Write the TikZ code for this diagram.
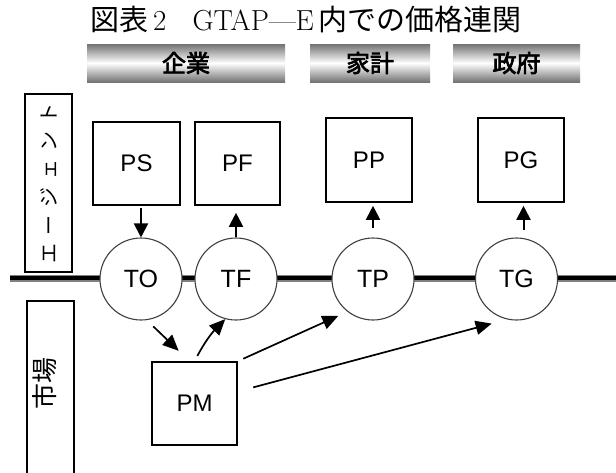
\documentclass[tikz,border=0pt]{standalone}
\usepackage{fontspec}
\usetikzlibrary{arrows.meta}
\newfontfamily\cjk{Noto Sans CJK JP}
\newfontfamily\cjkb[FakeBold=3]{Noto Sans CJK JP}
\newfontfamily\lab{Liberation Sans}
\newcommand\kgap{\hspace{8pt}}
\begin{document}
\begin{tikzpicture}[x=1pt,y=-1pt,
 box/.style={draw, line width=1.6pt, minimum width=86pt, minimum height=84pt, inner sep=0pt, font=\lab\fontsize{24}{27}\selectfont},
 hub/.style={circle, draw=black!75, line width=1.1pt, fill=white, minimum size=82pt, inner sep=0pt, font=\lab\fontsize{25}{28}\selectfont},
 bar/.style={minimum height=38pt, inner sep=0pt, top color=black!55, bottom color=black!55, middle color=white, font=\cjkb\fontsize{24}{26}\selectfont},
 side/.style={draw, line width=1.8pt, rotate=90, minimum height=47pt, inner sep=0pt},
 varr/.style={line width=2pt, -{Triangle[length=14pt,width=14pt]}},
 darr/.style={line width=1.7pt, -{Triangle[length=16pt,width=14pt]}}
]
\useasboundingbox (0,0) rectangle (616,472);
\clip (0,0) rectangle (616,472);
\fill[white] (0,0) rectangle (616,472);

% title
\node (title) at (306,19) {\fontsize{29}{33}\selectfont{\cjk 図表}\,2\hspace{0.9em}GTAP—E\,{\cjk 内での価格連関}};

% header bars
\node[bar, minimum width=198pt] (bfirm) at (186,63) {企業};
\node[bar, minimum width=120pt] (bhh) at (370,63) {家計};
\node[bar, minimum width=127pt] (bgov) at (516.5,63) {政府};

% side boxes
\node[side, minimum width=178pt, font=\cjk\fontsize{20}{22}\selectfont] (agent) at (48.5,183) {エ\kgap ー\kgap ジ\kgap ェ\kgap ン\kgap ト};
\node[side, minimum width=190pt] (mkt) at (50.5,396) {};
\node[rotate=90, inner sep=0pt, font=\cjk\fontsize{26}{28}\selectfont] (mkttxt) at (45,383) {市場};

% main line
\coordinate (L) at (10,278);
\coordinate (R) at (620,278);
\draw[line width=7pt, black!50] (L) -- (R);
\draw[line width=4pt, black] (L) -- (R);

% boxes
\node[box, minimum width=87pt, minimum height=83pt] (PS) at (136.5,163.5) {PS};
\node[box, minimum width=85pt, minimum height=83pt] (PF) at (237.5,163.5) {PF};
\node[box] (PP) at (369,160) {PP};
\node[box] (PG) at (521,160) {PG};
\node[box, minimum width=85pt, minimum height=83pt] (PM) at (194.5,403.5) {PM};

% circles
\node[hub] (TO) at (141,279) {\raisebox{-3pt}{TO}};
\node[hub] (TF) at (236,279) {\raisebox{-3pt}{TF}};
\node[hub] (TP) at (373,279) {\raisebox{-3pt}{TP}};
\node[hub] (TG) at (516.5,279) {\raisebox{-3pt}{TG}};

% vertical arrows
\draw[varr, shorten <=2pt] (TO.north |- PS.south) -- (TO.north);
\draw[varr, shorten >=7pt] (TF.north) -- (TF.north |- PF.south);
\draw[varr, shorten <=9pt, shorten >=3pt] (TP.north) -- (TP.north |- PP.south);
\draw[varr, shorten <=7pt, shorten >=3pt] ([xshift=7pt]TG.north) -- ([xshift=7pt]TG.north |- PG.south);

% diagonal arrows
\draw[darr, shorten <=9pt, shorten >=15pt] (TO.-82) -- ([xshift=-5pt]PM.north);
\draw[darr, shorten <=6pt] (PM.north) to[bend left=8] (TF.-105);
\draw[darr, shorten <=6pt, shorten >=10pt] (PM.north east) -- (TP.-128);
\draw[darr, shorten <=16pt, shorten >=16pt] ([yshift=12pt]PM.east) -- (TG.-103);
\end{tikzpicture}
\end{document}
